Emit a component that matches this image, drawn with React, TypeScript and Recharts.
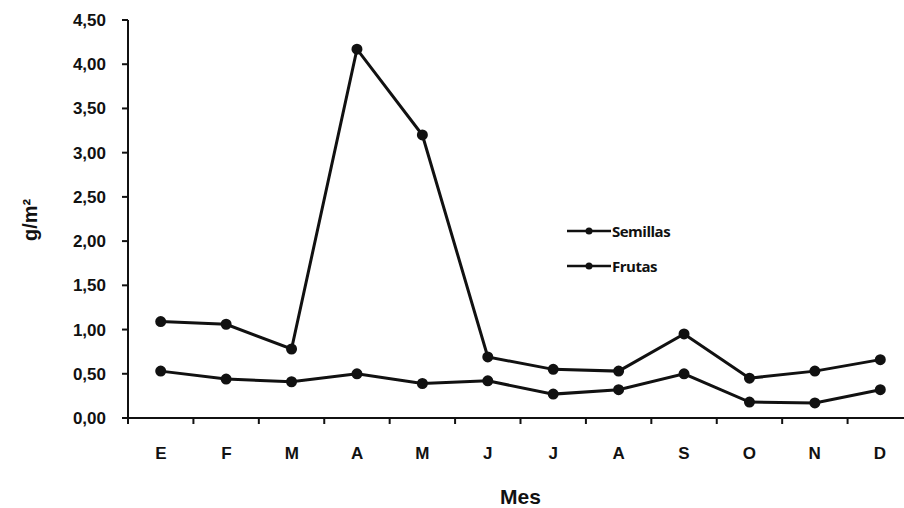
import React from 'react';
import { LineChart, Line, XAxis, YAxis } from 'recharts';

const meses = ['E', 'F', 'M', 'A', 'M', 'J', 'J', 'A', 'S', 'O', 'N', 'D'];
const semillas = [1.09, 1.06, 0.78, 4.17, 3.2, 0.69, 0.55, 0.53, 0.95, 0.45, 0.53, 0.66];
const frutas = [0.53, 0.44, 0.41, 0.5, 0.39, 0.42, 0.27, 0.32, 0.5, 0.18, 0.17, 0.32];
const yTicks = [0, 0.5, 1, 1.5, 2, 2.5, 3, 3.5, 4, 4.5];
const bordes = [0, 1, 2, 3, 4, 5, 6, 7, 8, 9, 10, 11, 12];

// each month sits in the middle of its slot on the numeric axis
const data = meses.map((mes, i) => ({ mes, pos: i + 0.5, semillas: semillas[i], frutas: frutas[i] }));

const font = '"Liberation Sans", Arial, sans-serif';
const fmt = (v: number) => v.toFixed(2).replace('.', ',');

const LegendBox = () => (
  <div style={{ position: 'absolute', left: 567, top: 213, fontFamily: '"Open Sans", sans-serif', fontWeight: 700, fontSize: 15, letterSpacing: -0.5, color: '#111' }}>
    {['Semillas', 'Frutas'].map((name) => (
      <div key={name} style={{ display: 'flex', alignItems: 'center', height: 35 }}>
        <svg width={44} height={10}>
          <line x1={0} y1={5} x2={44} y2={5} stroke="#111" strokeWidth={2.5} />
          <circle cx={22} cy={5} r={3.5} fill="#111" />
        </svg>
        <span style={{ marginLeft: 1 }}>{name}</span>
      </div>
    ))}
  </div>
);

export default function App() {
  return (
    <div style={{ position: 'fixed', left: 0, top: 0, width: 904, height: 508, overflow: 'hidden', background: '#fff' }}>
      <LineChart width={930} height={508} data={data} margin={{ top: 20, right: 17, left: 0, bottom: 0 }}>
        <XAxis
          xAxisId="b"
          dataKey="pos"
          type="number"
          domain={[0, 12]}
          ticks={bordes}
          height={10}
          tickSize={6}
          tickFormatter={() => ''}
          stroke="#111"
          strokeWidth={2}
        />
        <XAxis
          xAxisId="m"
          dataKey="mes"
          padding={{ left: 33, right: 33 }}
          height={80}
          axisLine={false}
          tickLine={false}
          tickMargin={13}
          tick={{ fill: '#111', fontFamily: font, fontWeight: 700, fontSize: 17 }}
          label={{ value: 'Mes', position: 'insideBottom', offset: 4, fill: '#111', fontFamily: font, fontWeight: 700, fontSize: 21 }}
        />
        <YAxis
          domain={[0, 4.5]}
          ticks={yTicks}
          width={128}
          tickSize={6}
          tickMargin={16}
          tickFormatter={fmt}
          stroke="#111"
          strokeWidth={2}
          tick={{ fill: '#111', fontFamily: font, fontWeight: 700, fontSize: 17 }}
          label={{ value: 'g/m²', angle: -90, position: 'insideLeft', offset: 30, dy: 22, fill: '#111', fontFamily: font, fontWeight: 700, fontSize: 20 }}
        />
        <Line xAxisId="b" dataKey="semillas" name="Semillas" stroke="#111" strokeWidth={3} dot={{ r: 4, fill: '#111', stroke: '#111' }} isAnimationActive={false} />
        <Line xAxisId="b" dataKey="frutas" name="Frutas" stroke="#111" strokeWidth={3} dot={{ r: 4, fill: '#111', stroke: '#111' }} isAnimationActive={false} />
      </LineChart>
      <LegendBox />
    </div>
  );
}
